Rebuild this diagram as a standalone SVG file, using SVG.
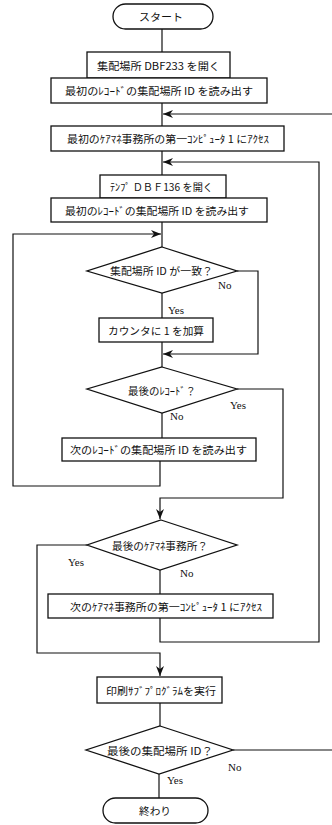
<svg xmlns="http://www.w3.org/2000/svg" width="332" height="825" viewBox="0 0 332 825">
<defs>
<marker id="ah" viewBox="0 0 10 10" refX="10" refY="5" markerWidth="10" markerHeight="10" markerUnits="userSpaceOnUse" orient="auto">
<path d="M0,1 L10,5 L0,9 L3,5 Z" fill="#111"/>
</marker>
<style>
.s{fill:#fff;stroke:#111;stroke-width:1.3}
.c{fill:none;stroke:#111;stroke-width:1.2}
.t{font-family:"Noto Sans CJK JP","Noto Sans",sans-serif;font-size:10.5px;fill:#111;text-anchor:middle;dominant-baseline:central}
.l{font-family:"Liberation Serif",serif;font-size:11px;fill:#111;dominant-baseline:central}
</style>
</defs>
<rect width="332" height="825" fill="#fff"/>
<g id="connectors">
<path class="c" d="M162 29 V52"/>
<path class="c" d="M162 103 V126"/>
<path class="c" d="M332 114 H163" marker-end="url(#ah)"/>
<path class="c" d="M162 151 V175"/>
<path class="c" d="M160 618 V642 H319 V162 H163" marker-end="url(#ah)"/>
<path class="c" d="M162 222 V247"/>
<path class="c" d="M160 461 V486 H13 V234 H161" marker-end="url(#ah)"/>
<path class="c" d="M237 271 H258 V354 H163" marker-end="url(#ah)"/>
<path class="c" d="M162 293 V318"/>
<path class="c" d="M162 342 V367"/>
<path class="c" d="M162 413 V438"/>
<path class="c" d="M237 389 H283 V498 H160 V519" marker-end="url(#ah)"/>
<path class="c" d="M160 570 V594"/>
<path class="c" d="M87 545 H37 V653 H160 V676" marker-end="url(#ah)"/>
<path class="c" d="M160 703 V726"/>
<path class="c" d="M233 750 H332"/>
<path class="c" d="M159 774 V798"/>
<text class="l" x="218" y="285">No</text>
<text class="l" x="168" y="310">Yes</text>
<text class="l" x="230" y="405">Yes</text>
<text class="l" x="170" y="416">No</text>
<text class="l" x="68" y="562">Yes</text>
<text class="l" x="180" y="573">No</text>
<text class="l" x="228" y="767">No</text>
<text class="l" x="167" y="780">Yes</text>
</g>
<g id="start"><rect class="s" x="113" y="4" width="100" height="25" rx="12.5"/><text class="t" x="161" y="16.5" textLength="44" lengthAdjust="spacingAndGlyphs">スタート</text></g>
<g id="box1"><rect class="s" x="87" y="52" width="143" height="26"/><text class="t" x="158.5" y="65" textLength="123" lengthAdjust="spacingAndGlyphs">集配場所 DBF233 を開く</text></g>
<g id="box2"><rect class="s" x="51" y="78" width="216" height="25"/><text class="t" x="159" y="90.5" textLength="188" lengthAdjust="spacingAndGlyphs">最初のﾚｺｰﾄﾞの集配場所 ID を読み出す</text></g>
<g id="box3"><rect class="s" x="51" y="126" width="233" height="25"/><text class="t" x="168" y="138.5" textLength="202" lengthAdjust="spacingAndGlyphs">最初のｹｱﾏﾈ事務所の第一ｺﾝﾋﾟｭｰﾀ 1 にｱｸｾｽ</text></g>
<g id="box4"><rect class="s" x="100" y="175" width="126" height="23"/><text class="t" x="161.5" y="186.5" textLength="103" lengthAdjust="spacingAndGlyphs">ﾃﾝﾌﾟ ＤＢＦ136 を開く</text></g>
<g id="box5"><rect class="s" x="51" y="198" width="216" height="24"/><text class="t" x="157" y="210" textLength="184" lengthAdjust="spacingAndGlyphs">最初のﾚｺｰﾄﾞの集配場所 ID を読み出す</text></g>
<g id="dec1"><polygon class="s" points="162,247 237,271 162,293 87,271"/><text class="t" x="161.5" y="270.5" textLength="103" lengthAdjust="spacingAndGlyphs">集配場所 ID が一致？</text></g>
<g id="box6"><rect class="s" x="99" y="318" width="114" height="24"/><text class="t" x="156" y="330" textLength="96" lengthAdjust="spacingAndGlyphs">カウンタに 1 を加算</text></g>
<g id="dec2"><polygon class="s" points="162,367 237,389 162,413 87,389"/><text class="t" x="162" y="390" textLength="68" lengthAdjust="spacingAndGlyphs">最後のﾚｺｰﾄﾞ？</text></g>
<g id="box7"><rect class="s" x="62" y="438" width="194" height="23"/><text class="t" x="158.5" y="449.5" textLength="177" lengthAdjust="spacingAndGlyphs">次のﾚｺｰﾄﾞの集配場所 ID を読み出す</text></g>
<g id="dec3"><polygon class="s" points="161,520 237,545 160,570 87,545"/><text class="t" x="160" y="545" textLength="96" lengthAdjust="spacingAndGlyphs">最後のｹｱﾏﾈ事務所？</text></g>
<g id="box9"><rect class="s" x="48" y="594" width="225" height="24"/><text class="t" x="166" y="606" textLength="192" lengthAdjust="spacingAndGlyphs">次のｹｱﾏﾈ事務所の第一ｺﾝﾋﾟｭｰﾀ 1 にｱｸｾｽ</text></g>
<g id="box8"><rect class="s" x="97" y="677" width="125" height="26"/><text class="t" x="161" y="690" textLength="110" lengthAdjust="spacingAndGlyphs">印刷ｻﾌﾞﾌﾟﾛｸﾞﾗﾑを実行</text></g>
<g id="dec4"><polygon class="s" points="160,726 233,750 159,774 86,750"/><text class="t" x="160" y="750" textLength="106" lengthAdjust="spacingAndGlyphs">最後の集配場所 ID？</text></g>
<g id="end"><rect class="s" x="103" y="798" width="105" height="25" rx="12.5"/><text class="t" x="155" y="810.5" textLength="32" lengthAdjust="spacingAndGlyphs">終わり</text></g>
</svg>
